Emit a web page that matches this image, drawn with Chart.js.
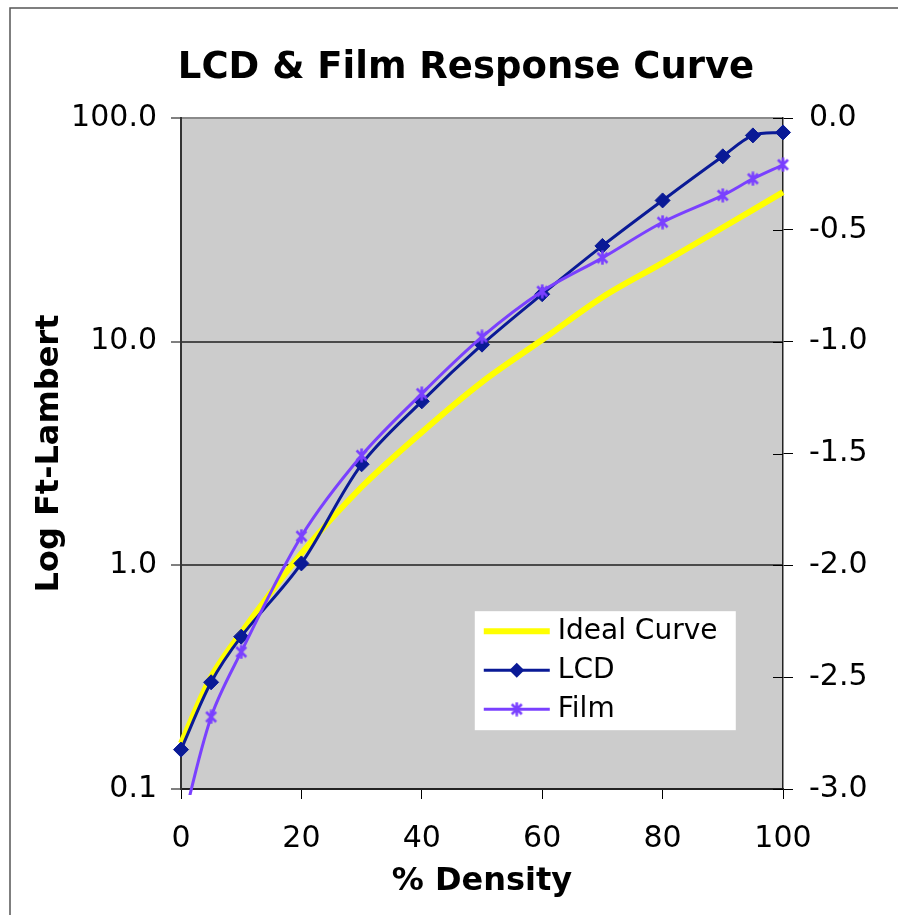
<!DOCTYPE html>
<html>
<head>
<meta charset="utf-8">
<script src="https://cdn.jsdelivr.net/npm/chart.js@4.4.1/dist/chart.umd.min.js"></script>
<style>
  html, body { margin: 0; padding: 0; background: #fff; overflow: hidden; }
  canvas { display: block; }
</style>
</head>
<body>
<canvas id="chart" width="898" height="915"></canvas>
<script>
// Measured response, % density vs luminance (ft-lambert)
const densityPoints = [0, 5, 10, 20, 30, 40, 50, 60, 70, 80, 90, 95, 100];
const lcdValues  = [0.15, 0.30, 0.48, 1.02, 2.83, 5.41, 9.7, 16.3, 26.8, 42.8, 67.4, 83.6, 86.2];
const filmValues = [0.065, 0.21, 0.41, 1.35, 3.10, 5.86, 10.5, 16.8, 23.7, 34.2, 45.1, 53.5, 61.8];

// Target curve
const idealDensity = [0, 5, 10, 20, 30, 40, 50, 60, 70, 80, 90, 100];
const idealValues  = [0.16, 0.317, 0.50, 1.13, 2.24, 3.94, 6.6, 10.2, 15.8, 22.5, 32.4, 46.6];

const chartTitle = 'LCD & Film Response Curve';
const seriesNames = ['Ideal Curve', 'LCD', 'Film'];
const xTickLabels = ['0', '20', '40', '60', '80', '100'];
const yTickValues = [0.1, 1, 10, 100];
const yTickLabels = ['0.1', '1.0', '10.0', '100.0'];
const rightTickLabels = ['-3.0', '-2.5', '-2.0', '-1.5', '-1.0', '-0.5', '0.0'];

const FONT = "'DejaVu Sans', Verdana, sans-serif";
const COLOR_IDEAL = '#ffff00';
const COLOR_LCD = '#0a1a96';
const COLOR_FILM = '#7a40ff';

// asterisk marker (X with a vertical stroke)
function asteriskMarker(color, size) {
  const c = document.createElement('canvas');
  c.width = c.height = size;
  const g = c.getContext('2d');
  g.strokeStyle = color;
  g.lineWidth = 2.6;
  const m = 2.5, s = size;
  g.beginPath();
  g.moveTo(m, m); g.lineTo(s - m, s - m);
  g.moveTo(s - m, m); g.lineTo(m, s - m);
  g.moveTo(s / 2, 0.5); g.lineTo(s / 2, s - 0.5);
  g.stroke();
  return c;
}
const filmMarker = asteriskMarker(COLOR_FILM, 15);

const toXY = (xs, ys) => xs.map((x, i) => ({ x: x, y: ys[i] }));

// page background, outer frame and grey plot area
const backdrop = {
  id: 'backdrop',
  beforeDraw(chart) {
    const { ctx, chartArea: a } = chart;
    ctx.save();
    ctx.fillStyle = '#ffffff';
    ctx.fillRect(0, 0, chart.width, chart.height);
    ctx.strokeStyle = '#555';
    ctx.lineWidth = 1.5;
    ctx.strokeRect(10, 8, chart.width + 20, chart.height + 20);
    ctx.fillStyle = '#cccccc';
    ctx.fillRect(a.left, a.top, a.right - a.left, a.bottom - a.top);
    ctx.restore();
  }
};

// chart heading, centred a little right of the canvas middle
const heading = {
  id: 'heading',
  afterDraw(chart) {
    const { ctx } = chart;
    ctx.save();
    ctx.fillStyle = '#000';
    ctx.font = 'bold 37px ' + FONT;
    ctx.textAlign = 'center';
    ctx.textBaseline = 'middle';
    ctx.fillText(chartTitle, 466, 68);
    ctx.restore();
  }
};

// right-hand axis ticks cross the axis line
const crossTicks = {
  id: 'crossTicks',
  afterDraw(chart) {
    const s = chart.scales.y2;
    const { ctx } = chart;
    ctx.save();
    ctx.strokeStyle = '#000';
    ctx.lineWidth = 1;
    s.ticks.forEach(t => {
      const y = Math.round(s.getPixelForValue(t.value)) + 0.5;
      ctx.beginPath();
      ctx.moveTo(s.left - 10, y);
      ctx.lineTo(s.left, y);
      ctx.stroke();
    });
    ctx.restore();
  }
};

// boxed legend inside the plot area
const boxLegend = {
  id: 'boxLegend',
  afterDraw(chart) {
    const { ctx, chartArea: a } = chart;
    const w = a.right - a.left, h = a.bottom - a.top;
    const bx = a.left + w * 0.488, by = a.top + h * 0.735;
    const bw = 261, bh = 119;
    ctx.save();
    ctx.fillStyle = '#ffffff';
    ctx.fillRect(bx, by, bw, bh);
    ctx.font = '28px ' + FONT;
    ctx.textBaseline = 'middle';
    ctx.textAlign = 'left';
    [0, 1, 2].forEach((di, row) => {
      const ds = chart.data.datasets[di];
      const y = by + 20 + row * 39;
      const x1 = bx + 9, x2 = bx + 75;
      ctx.strokeStyle = ds.borderColor;
      ctx.lineWidth = ds.borderWidth;
      ctx.beginPath();
      ctx.moveTo(x1, y);
      ctx.lineTo(x2, y);
      ctx.stroke();
      const cx = (x1 + x2) / 2;
      if (ds.pointStyle === 'rectRot') {
        const r = ds.pointRadius;
        ctx.fillStyle = ds.pointBackgroundColor;
        ctx.beginPath();
        ctx.moveTo(cx, y - r); ctx.lineTo(cx + r, y); ctx.lineTo(cx, y + r); ctx.lineTo(cx - r, y);
        ctx.closePath();
        ctx.fill();
      } else if (ds.pointStyle instanceof HTMLCanvasElement) {
        const m = ds.pointStyle;
        ctx.drawImage(m, cx - m.width / 2, y - m.height / 2);
      }
      ctx.fillStyle = '#000';
      ctx.fillText(ds.label, bx + 83, y + 1);
    });
    ctx.restore();
  }
};

new Chart(document.getElementById('chart'), {
  type: 'line',
  data: {
    datasets: [
      {
        label: seriesNames[0],
        data: toXY(idealDensity, idealValues),
        borderColor: COLOR_IDEAL,
        borderWidth: 6,
        pointRadius: 0,
        tension: 0.33,
        order: 3,
        clip: { left: 8, right: 8, top: 8, bottom: 6 }
      },
      {
        label: seriesNames[1],
        data: toXY(densityPoints, lcdValues),
        borderColor: COLOR_LCD,
        borderWidth: 3,
        pointStyle: 'rectRot',
        pointRadius: 7.5,
        pointBackgroundColor: COLOR_LCD,
        pointBorderColor: COLOR_LCD,
        pointBorderWidth: 1,
        tension: 0.33,
        order: 2,
        clip: { left: 9, right: 9, top: 9, bottom: 6 }
      },
      {
        label: seriesNames[2],
        data: toXY(densityPoints, filmValues),
        borderColor: COLOR_FILM,
        borderWidth: 3,
        pointStyle: filmMarker,
        pointRadius: 7,
        tension: 0.33,
        order: 1,
        clip: { left: 8, right: 8, top: 8, bottom: 6 }
      }
    ]
  },
  options: {
    responsive: false,
    animation: false,
    devicePixelRatio: 1,
    layout: { padding: 0 },
    plugins: {
      legend: { display: false },
      tooltip: { enabled: false },
      // reserves the heading band; the text itself is drawn by the heading plugin
      title: {
        display: true,
        text: chartTitle,
        color: 'rgba(0,0,0,0)',
        font: { family: FONT, size: 37, weight: 'bold' },
        padding: { top: 44, bottom: 29.6 }
      }
    },
    scales: {
      x: {
        type: 'linear',
        min: 0,
        max: 100,
        ticks: {
          stepSize: 20,
          color: '#000',
          padding: 22,
          font: { family: FONT, size: 30 },
          callback: (v, i) => xTickLabels[i]
        },
        grid: { drawOnChartArea: false, tickLength: 10, color: '#000', lineWidth: 1 },
        border: { color: '#222', width: 2 },
        title: {
          display: true,
          text: '% Density',
          color: '#000',
          font: { family: FONT, size: 32, weight: 'bold' },
          padding: { top: 0, bottom: 14 }
        },
        afterFit(scale) { scale.height = 126; }
      },
      y: {
        type: 'logarithmic',
        position: 'left',
        min: 0.1,
        max: 100,
        afterBuildTicks(scale) { scale.ticks = yTickValues.map(v => ({ value: v })); },
        ticks: {
          color: '#000',
          padding: 14,
          font: { family: FONT, size: 30 },
          callback: (v, i) => yTickLabels[i]
        },
        grid: {
          drawOnChartArea: true,
          tickLength: 10,
          tickColor: '#000',
          tickWidth: 1,
          color: ctx => (ctx.tick && ctx.tick.value === 100 ? '#8a8a8a' : '#4a4a4a'),
          lineWidth: 2
        },
        border: { color: '#333', width: 2 },
        title: {
          display: true,
          text: 'Log Ft-Lambert',
          color: '#000',
          font: { family: FONT, size: 32, weight: 'bold' },
          padding: { top: 30, bottom: 0 }
        },
        afterFit(scale) { scale.width = 181; }
      },
      y2: {
        type: 'linear',
        position: 'right',
        min: -3,
        max: 0,
        ticks: {
          stepSize: 0.5,
          color: '#000',
          padding: 16,
          font: { family: FONT, size: 30 },
          callback: (v, i) => rightTickLabels[i]
        },
        grid: { drawOnChartArea: false, tickLength: 10, color: '#000', lineWidth: 1 },
        border: { color: '#222', width: 1.5 },
        afterFit(scale) { scale.width = 115; }
      }
    }
  },
  plugins: [backdrop, heading, crossTicks, boxLegend]
});
</script>
</body>
</html>
